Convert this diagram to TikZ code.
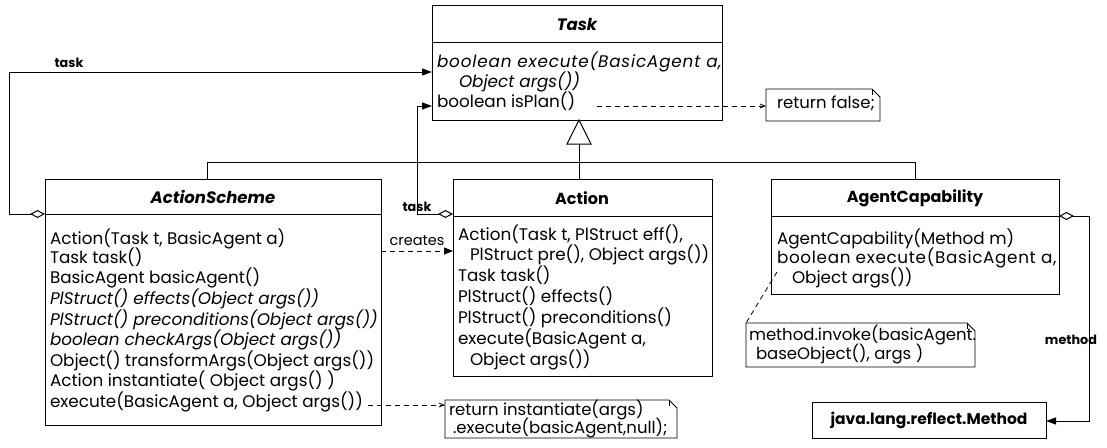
\documentclass[tikz,border=0pt]{standalone}
\usepackage{fontspec}
\setmainfont{Poppins}
\usetikzlibrary{arrows.meta}
\begin{document}
\begin{tikzpicture}[x=1pt,y={(0pt,-1pt)},
  every node/.style={inner sep=0pt, outer sep=0pt},
  cls/.style={draw, line width=1pt, anchor=north west},
  mem/.style={anchor=west, font=\fontsize{16.8}{19}\selectfont, text height=12pt, text depth=4pt},
  memi/.style={anchor=west, font=\fontsize{16.8}{19}\selectfont\itshape, text height=12pt, text depth=4pt},
  wide/.style={font=\fontsize{16.8}{19}\selectfont\addfontfeature{LetterSpace=#1}},
  widei/.style={font=\fontsize{16.8}{19}\selectfont\itshape\addfontfeature{LetterSpace=#1}},
  ttl/.style={font=\fontsize{16}{18}\selectfont\bfseries},
  ttli/.style={font=\fontsize{16.5}{18}\selectfont\bfseries\itshape},
  lbl/.style={font=\fontsize{12.8}{15}\selectfont\bfseries},
  notetxt/.style={anchor=west, font=\fontsize{16.5}{19}\selectfont, text height=11pt, text depth=4pt},
  notebox/.style={anchor=north west},
  notedraw/.style={line width=0.8pt},
  conn/.style={line width=1pt},
  dep/.style={line width=0.8pt, dash pattern=on 5pt off 4pt},
  agg/.style={conn, {Diamond[open,length=15pt,width=8pt,line width=1pt]}-{Triangle[length=10pt,width=7pt]}},
  deparrow/.style={dep, -{Straight Barb[length=5pt,width=4pt]}}
]
\fill[white] (0,0) rectangle (1107,447);
\useasboundingbox (0,0) rectangle (1107,447);

% ---------- Task ----------
\node[cls, minimum width=290pt, minimum height=115pt] (task) at (432,5) {};
\draw[line width=1pt] (432,42) -- (722,42);
\node[ttli] (tasktitle) at (577,24) {Task};
\node[memi, widei=5] (t1) at (437,63) {boolean execute(BasicAgent a,};
\node[memi] (t2) at (459,83) {Object args())};
\node[mem] (t3) at (437,103) {boolean isPlan()};

% ---------- ActionScheme ----------
\node[cls, minimum width=336pt, minimum height=246pt] (as) at (45,179) {};
\draw[line width=1pt] (45,214) -- (381,214);
\node[ttli] (astitle) at (213,197) {ActionScheme};
\node[mem]  (a1) at (50,240) {Action(Task t, BasicAgent a)};
\node[mem]  (a2) at (50,259) {Task task()};
\node[mem]  (a3) at (50,279) {BasicAgent basicAgent()};
\node[memi] (a4) at (50,300) {PlStruct() effects(Object args())};
\node[memi] (a5) at (50,321) {PlStruct() preconditions(Object args())};
\node[memi] (a6) at (50,341) {boolean checkArgs(Object args())};
\node[mem]  (a7) at (50,362) {Object() transformArgs(Object args())};
\node[mem]  (a8) at (50,382) {Action instantiate( Object args() )};
\node[mem]  (a9) at (50,403) {execute(BasicAgent a, Object args())};

% ---------- Action ----------
\node[cls, minimum width=259pt, minimum height=197pt] (act) at (453,179) {};
\draw[line width=1pt] (453,216) -- (712,216);
\node[ttl] (acttitle) at (582,198) {Action};
\node[mem] (b1) at (458,236) {Action(Task t, PlStruct eff(),};
\node[mem] (b2) at (470,256) {PlStruct pre(), Object args())};
\node[mem] (b3) at (458,277) {Task task()};
\node[mem] (b4) at (458,298) {PlStruct() effects()};
\node[mem] (b5) at (458,319) {PlStruct() preconditions()};
\node[mem] (b6) at (458,340) {execute(BasicAgent a,};
\node[mem] (b7) at (470,361) {Object args())};

% ---------- AgentCapability ----------
\node[cls, minimum width=288pt, minimum height=115pt] (cap) at (771,179) {};
\draw[line width=1pt] (771,216) -- (1059,216);
\node[ttl] (captitle) at (915,198) {AgentCapability};
\node[mem] (c1) at (777,240) {AgentCapability(Method m)};
\node[mem, wide=4] (c2) at (777,259) {boolean execute(BasicAgent a,};
\node[mem] (c3) at (792,279) {Object args())};

% ---------- java.lang.reflect.Method ----------
\node[draw, line width=1pt, minimum width=234pt, minimum height=36pt, font=\fontsize{15.5}{18}\selectfont\bfseries] (meth) at (929,420) {java.lang.reflect.Method};

% ---------- Notes ----------
\node[notebox, minimum width=114pt, minimum height=32pt] (n1) at (766,89) {};
\draw[notedraw] (n1.north west) -- ([xshift=-8pt]n1.north east) -- ([yshift=-8pt]n1.north east) -- (n1.south east) -- (n1.south west) -- cycle;
\draw[line width=0.5pt] ([xshift=-8pt]n1.north east) -- ([xshift=-8pt,yshift=-6pt]n1.north east);
\node[notetxt] (n1t) at (777,105) {return false;};

\node[notebox, minimum width=229pt, minimum height=44pt] (n2) at (746,323) {};
\draw[notedraw] (n2.north west) -- ([xshift=-8pt]n2.north east) -- ([yshift=-8pt]n2.north east) -- (n2.south east) -- (n2.south west) -- cycle;
\draw[line width=0.5pt] ([xshift=-8pt]n2.north east) -- ([xshift=-8pt,yshift=-6pt]n2.north east);
\node[notetxt] (n2a) at (749,337) {method.invoke(basicAgent.};
\node[notetxt] (n2b) at (756,356) {baseObject(), args )};

\node[notebox, minimum width=232pt, minimum height=38pt] (n3) at (445,400) {};
\draw[notedraw] (n3.north west) -- ([xshift=-8pt]n3.north east) -- ([yshift=-8pt]n3.north east) -- (n3.south east) -- (n3.south west) -- cycle;
\draw[line width=0.5pt] ([xshift=-8pt]n3.north east) -- ([xshift=-8pt,yshift=-6pt]n3.north east);
\node[notetxt] (n3a) at (449,412) {return instantiate(args)};
\node[notetxt] (n3b) at (453,430) {.execute(basicAgent,null);};

% ---------- Generalization ----------
\coordinate (gtop) at (579,144);
\draw[conn] (as.north -| 207,0) -- (207,162) -- (915,162) -- (cap.north -| 915,0);
\draw[conn] (act.north -| 579,0) -- (gtop);
\draw[line width=1pt, fill=white] (579,120) -- (567,144) -- (591,144) -- cycle;

% ---------- Associations ----------
\coordinate (asd) at (45,214);
\coordinate (actd) at (453,214);
\coordinate (capd) at (1059,216);
\draw[agg] (asd) -- (9,214) -- (9,72) -- (task.west |- 0,72);
\draw[agg] (actd) -- (417,214) -- (417,106) -- (task.west |- 0,106);
\draw[agg] (capd) -- (1089,216) -- (1089,421) -- (meth.east |- 0,421);
\node[lbl] (lt1) at (69,63) {task};
\node[lbl] (lt2) at (417,207) {task};
\node[lbl] (lm) at (1071,340) {method};

% ---------- Dependencies ----------
\draw[dep, -{Triangle[length=9pt,width=7pt]}] (as.east |- 0,251) -- (act.west |- 0,251);
\node[font=\fontsize{14.5}{17}\selectfont] (cr) at (417,241) {creates};
\draw[deparrow] (597,106) -- (n1.west |- 0,106);
\draw[deparrow] (368,405) -- (n3.west |- 0,405);
\draw[dep] (777,272) -- (n2.north west);
\end{tikzpicture}
\end{document}
